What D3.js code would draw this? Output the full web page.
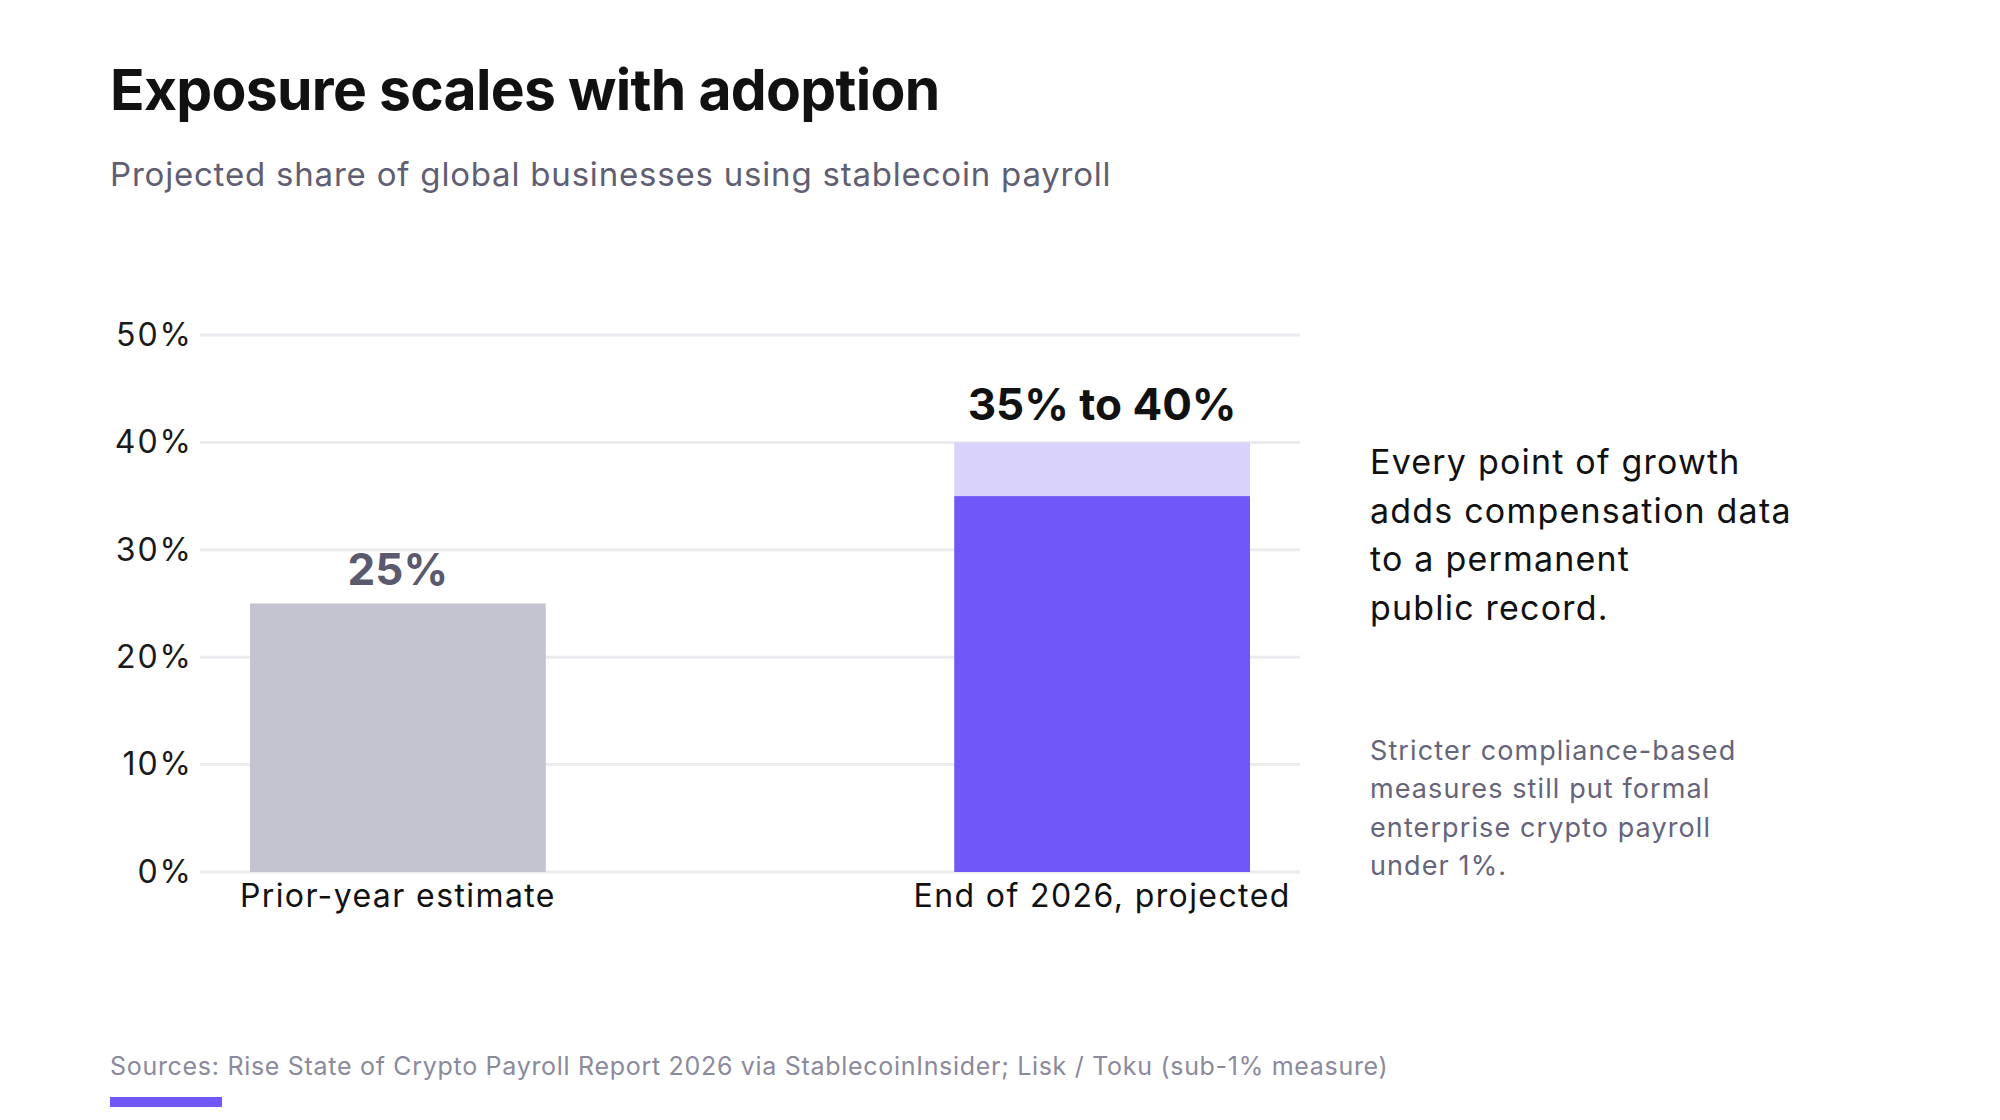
<!DOCTYPE html>
<html>
<head>
<meta charset="utf-8">
<script src="https://cdn.jsdelivr.net/npm/d3@7"></script>
<style>
  body { margin: 0; background: #ffffff; }
  #canvas text { font-family: Inter, "Noto Sans", sans-serif; }
</style>
</head>
<body>
<div id="canvas"></div>
<script>
"use strict";

/* Data */
let categories = ["Prior-year estimate", "End of 2026, projected"];
let baseValues = [25, 35];   // solid part of the bar
let topValues = [25, 40];    // upper end of the projected range
let valueLabels = ["25%", "35% to 40%"];
let yTicks = [0, 10, 20, 30, 40, 50];

let noteLines = ["Every point of growth", "adds compensation data", "to a permanent", "public record."];
let smallNoteLines = ["Stricter compliance-based", "measures still put formal", "enterprise crypto payroll", "under 1%."];

/* Drawing config */
let svgWidth = 2000;
let svgHeight = 1120;
let plotLeft = 200;
let plotRight = 1300;
let plotTop = 335;
let plotBottom = 872;

let svg = d3.select("#canvas")
  .append("svg")
  .attr("width", svgWidth)
  .attr("height", svgHeight);

/* Title + subtitle */
svg.append("text")
  .attr("x", 110)
  .attr("y", 110)
  .attr("font-size", "57px")
  .attr("font-weight", 700)
  .attr("letter-spacing", "-0.7px")
  .attr("fill", "#111111")
  .text("Exposure scales with adoption");

svg.append("text")
  .attr("x", 110)
  .attr("y", 186)
  .attr("font-size", "33px")
  .attr("letter-spacing", "0.8px")
  .attr("fill", "#5f5e72")
  .text("Projected share of global businesses using stablecoin payroll");

/* Scales */
let xScale = d3.scaleBand()
  .domain(categories)
  .range([plotLeft, plotRight])
  .paddingInner(0.58)
  .paddingOuter(0.071);

let yScale = d3.scaleLinear()
  .domain([0, 50])
  .range([plotBottom, plotTop]);

/* Gridlines */
svg.selectAll(".grid")
  .data(yTicks)
  .enter()
  .append("line")
  .attr("x1", plotLeft)
  .attr("x2", plotRight)
  .attr("y1", function (d) { return yScale(d); })
  .attr("y2", function (d) { return yScale(d); })
  .attr("stroke", "#ececf0")
  .attr("stroke-width", 3);

/* Y axis labels */
let yAxis = d3.axisLeft(yScale)
  .tickValues(yTicks)
  .tickFormat(function (d) { return d + "%"; })
  .tickSize(0)
  .tickPadding(7);

let yAxisG = svg.append("g")
  .attr("transform", "translate(" + plotLeft + ",0)")
  .call(yAxis);
yAxisG.select(".domain").remove();
yAxisG.selectAll("text")
  .attr("font-size", "32px")
  .attr("letter-spacing", "2px")
  .attr("fill", "#1a1a1a")
  .attr("font-family", "Inter, sans-serif");

/* Range part (light) drawn first, then solid part */
svg.selectAll(".range-bar")
  .data(categories)
  .enter()
  .append("rect")
  .attr("x", function (d) { return xScale(d); })
  .attr("width", xScale.bandwidth())
  .attr("y", function (d, i) { return yScale(topValues[i]); })
  .attr("height", function (d, i) { return yScale(baseValues[i]) - yScale(topValues[i]); })
  .attr("fill", "#d9d3fb");

svg.selectAll(".base-bar")
  .data(categories)
  .enter()
  .append("rect")
  .attr("x", function (d) { return xScale(d); })
  .attr("width", xScale.bandwidth())
  .attr("y", function (d, i) { return yScale(baseValues[i]); })
  .attr("height", function (d, i) { return plotBottom - yScale(baseValues[i]); })
  .attr("fill", function (d, i) { return i === 0 ? "#c4c4d0" : "#7057f8"; });

/* Value labels above bars */
svg.selectAll(".value-label")
  .data(categories)
  .enter()
  .append("text")
  .attr("x", function (d) { return xScale(d) + xScale.bandwidth() / 2; })
  .attr("y", function (d, i) { return yScale(topValues[i]) - (i === 0 ? 19 : 22); })
  .attr("text-anchor", "middle")
  .attr("font-size", "44px")
  .attr("font-weight", 700)
  .attr("fill", function (d, i) { return i === 0 ? "#5a596d" : "#111111"; })
  .text(function (d, i) { return valueLabels[i]; });

/* X axis labels */
let xAxis = d3.axisBottom(xScale)
  .tickSize(0)
  .tickPadding(12);

let xAxisG = svg.append("g")
  .attr("transform", "translate(0," + plotBottom + ")")
  .call(xAxis);
xAxisG.select(".domain").remove();
xAxisG.selectAll("text")
  .attr("font-size", "32px")
  .attr("letter-spacing", "1.4px")
  .attr("fill", "#111111")
  .attr("font-family", "Inter, sans-serif");

/* Right side notes */
svg.selectAll(".note")
  .data(noteLines)
  .enter()
  .append("text")
  .attr("x", 1370)
  .attr("y", function (d, i) { return 474 + i * 48.5; })
  .attr("font-size", "34px")
  .attr("letter-spacing", "1.2px")
  .attr("fill", "#111111")
  .text(function (d) { return d; });

svg.selectAll(".small-note")
  .data(smallNoteLines)
  .enter()
  .append("text")
  .attr("x", 1370)
  .attr("y", function (d, i) { return 760 + i * 38.3; })
  .attr("font-size", "27px")
  .attr("letter-spacing", "1.1px")
  .attr("fill", "#65647a")
  .text(function (d) { return d; });

/* Sources + accent */
svg.append("text")
  .attr("x", 110)
  .attr("y", 1075)
  .attr("font-size", "25px")
  .attr("letter-spacing", "0.7px")
  .attr("fill", "#8a8a9c")
  .text("Sources: Rise State of Crypto Payroll Report 2026 via StablecoinInsider; Lisk / Toku (sub-1% measure)");

svg.append("rect")
  .attr("x", 110)
  .attr("y", 1097)
  .attr("width", 112)
  .attr("height", 10)
  .attr("fill", "#7057f8");
</script>
</body>
</html>
